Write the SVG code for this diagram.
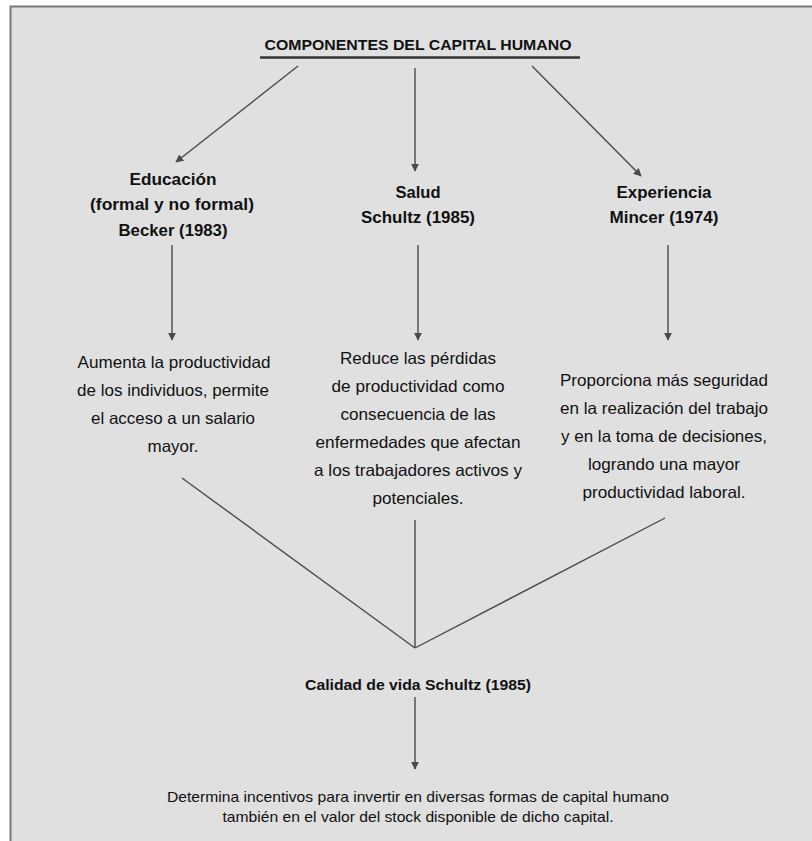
<svg xmlns="http://www.w3.org/2000/svg" width="812" height="841" viewBox="0 0 812 841">
<defs>
<marker id="ah" viewBox="0 0 10 10" refX="9" refY="5" markerWidth="8" markerHeight="8" markerUnits="userSpaceOnUse" orient="auto">
<path d="M0,0 L10,5 L0,10 z" fill="#4a4a4a"/>
</marker>
<style>
text{font-family:"Liberation Sans Narrow","Liberation Sans",Arial,sans-serif;fill:#111;text-anchor:middle}
.b{font-weight:bold;font-size:17px}
.t{font-size:16.5px}
.s{font-size:14.5px}
.ln{stroke:#4a4a4a;stroke-width:1.4;fill:none}
.ar{stroke:#4a4a4a;stroke-width:1.4;fill:none;marker-end:url(#ah)}
</style>
</defs>
<rect x="0" y="0" width="812" height="841" fill="#ffffff"/>
<rect x="10" y="6" width="802" height="835" fill="#e0e0e0"/>
<path d="M10.5,841 V6.5 H812" stroke="#777" stroke-width="2" fill="none"/>
<g id="title">
<text x="418" y="50" style="font-weight:bold;font-size:15px" textLength="307" lengthAdjust="spacingAndGlyphs">COMPONENTES DEL CAPITAL HUMANO</text>
<line x1="260" y1="57.5" x2="580" y2="57.5" stroke="#333" stroke-width="2.5"/>
</g>
<g id="connectors">
<line class="ar" x1="298" y1="66" x2="176" y2="162"/>
<line class="ar" x1="415" y1="68" x2="415" y2="171"/>
<line class="ar" x1="532" y1="66" x2="641" y2="176"/>
<line class="ar" x1="172" y1="245" x2="172" y2="340"/>
<line class="ar" x1="418" y1="245" x2="418" y2="340"/>
<line class="ar" x1="668" y1="245" x2="668" y2="340"/>
<line class="ln" x1="182" y1="478" x2="415" y2="648"/>
<line class="ln" x1="415" y1="520" x2="415" y2="648"/>
<line class="ln" x1="665" y1="518" x2="415" y2="648"/>
<line class="ar" x1="415" y1="697" x2="415" y2="769"/>
</g>
<g id="educacion">
<text class="b" x="173" y="185" textLength="87" lengthAdjust="spacingAndGlyphs">Educación</text>
<text class="b" x="172" y="210" textLength="164" lengthAdjust="spacingAndGlyphs">(formal y no formal)</text>
<text class="b" x="173" y="236" textLength="109" lengthAdjust="spacingAndGlyphs">Becker (1983)</text>
</g>
<g id="salud">
<text class="b" x="418" y="198" textLength="45" lengthAdjust="spacingAndGlyphs">Salud</text>
<text class="b" x="418" y="223" textLength="114" lengthAdjust="spacingAndGlyphs">Schultz (1985)</text>
</g>
<g id="experiencia">
<text class="b" x="664" y="198" textLength="95" lengthAdjust="spacingAndGlyphs">Experiencia</text>
<text class="b" x="664" y="223" textLength="109" lengthAdjust="spacingAndGlyphs">Mincer (1974)</text>
</g>
<g id="efecto-educacion">
<text class="t" x="174" y="368" textLength="193" lengthAdjust="spacingAndGlyphs">Aumenta la productividad</text>
<text class="t" x="173" y="396" textLength="192" lengthAdjust="spacingAndGlyphs">de los individuos, permite</text>
<text class="t" x="173" y="424" textLength="164" lengthAdjust="spacingAndGlyphs">el acceso a un salario</text>
<text class="t" x="173" y="452" textLength="51" lengthAdjust="spacingAndGlyphs">mayor.</text>
</g>
<g id="efecto-salud">
<text class="t" x="418" y="364" textLength="156" lengthAdjust="spacingAndGlyphs">Reduce las pérdidas</text>
<text class="t" x="418" y="392" textLength="173" lengthAdjust="spacingAndGlyphs">de productividad como</text>
<text class="t" x="418" y="420" textLength="155" lengthAdjust="spacingAndGlyphs">consecuencia de las</text>
<text class="t" x="418" y="448" textLength="205" lengthAdjust="spacingAndGlyphs">enfermedades que afectan</text>
<text class="t" x="418" y="476" textLength="208" lengthAdjust="spacingAndGlyphs">a los trabajadores activos y</text>
<text class="t" x="418" y="504" textLength="91" lengthAdjust="spacingAndGlyphs">potenciales.</text>
</g>
<g id="efecto-experiencia">
<text class="t" x="664" y="386" textLength="208" lengthAdjust="spacingAndGlyphs">Proporciona más seguridad</text>
<text class="t" x="664" y="414" textLength="208" lengthAdjust="spacingAndGlyphs">en la realización del trabajo</text>
<text class="t" x="664" y="442" textLength="206" lengthAdjust="spacingAndGlyphs">y en la toma de decisiones,</text>
<text class="t" x="664" y="470" textLength="152" lengthAdjust="spacingAndGlyphs">logrando una mayor</text>
<text class="t" x="664" y="498" textLength="163" lengthAdjust="spacingAndGlyphs">productividad laboral.</text>
</g>
<g id="calidad">
<text x="418" y="690" style="font-weight:bold;font-size:15px" textLength="226" lengthAdjust="spacingAndGlyphs">Calidad de vida Schultz (1985)</text>
</g>
<g id="determina">
<text class="s" x="418" y="802" textLength="502" lengthAdjust="spacingAndGlyphs">Determina incentivos para invertir en diversas formas de capital humano</text>
<text class="s" x="418" y="822" textLength="391" lengthAdjust="spacingAndGlyphs">también en el valor del stock disponible de dicho capital.</text>
</g>
</svg>
